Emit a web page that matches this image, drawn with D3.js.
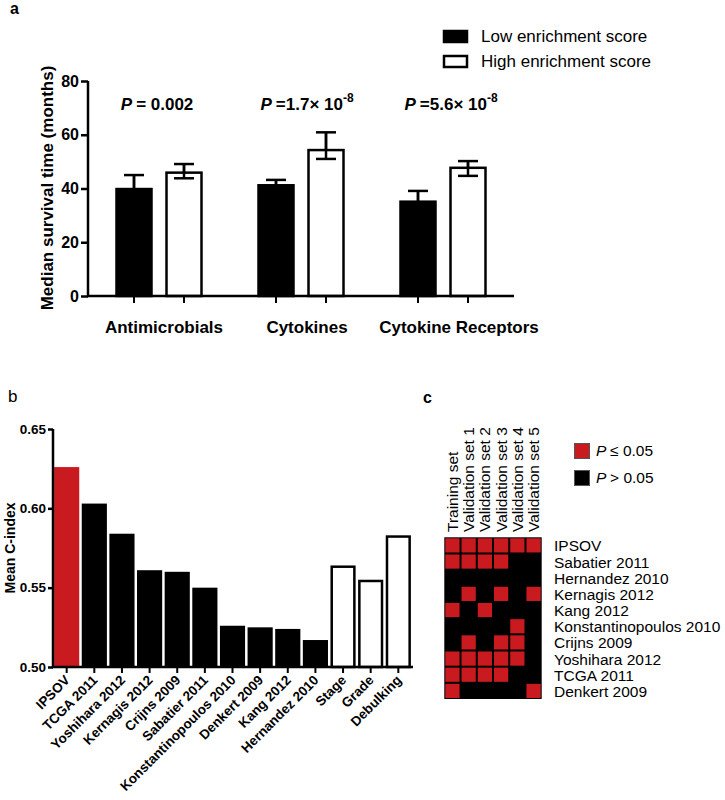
<!DOCTYPE html>
<html><head><meta charset="utf-8">
<script src="https://cdn.jsdelivr.net/npm/d3@7"></script>
<style>body{margin:0;background:#fff}svg{display:block;font-family:"Liberation Sans",Arial,sans-serif}</style>
</head><body>
<svg id="c" width="725" height="800"></svg>
<script>
// ---------- Panel a data ----------
const aCategories = ["Antimicrobials", "Cytokines", "Cytokine Receptors"];
const aSeries = ["Low enrichment score", "High enrichment score"];
const aLow = [39.8, 41.2, 35.1];
const aHigh = [45.9, 54.3, 47.7];
const aLowErrUp = [5.2, 2.0, 4.0];
const aLowErrDown = [5.2, 2.0, 4.0];
const aHighErrUp = [3.2, 6.6, 2.5];
const aHighErrDown = [2.1, 3.3, 3.0];
const aPMantissa = ["= 0.002", "=1.7\u00d7 10", "=5.6\u00d7 10"];
const aPExponent = ["", "-8", "-8"];
const aYTicks = [0, 20, 40, 60, 80];

// ---------- Panel b data ----------
const bCategories = ["IPSOV", "TCGA 2011", "Yoshihara 2012", "Kernagis 2012", "Crijns 2009", "Sabatier 2011",
  "Konstantinopoulos 2010", "Denkert 2009", "Kang 2012", "Hernandez 2010", "Stage", "Grade", "Debulking"];
const bValues = [0.626, 0.603, 0.584, 0.561, 0.560, 0.550, 0.526, 0.525, 0.524, 0.517, 0.564, 0.555, 0.583];
const bKind = ["ipsov", "sig", "sig", "sig", "sig", "sig", "sig", "sig", "sig", "sig", "clin", "clin", "clin"];
const bYTicks = [0.50, 0.55, 0.60, 0.65];

// ---------- Panel c data ----------
const cColumns = ["Training set", "Validation set 1", "Validation set 2", "Validation set 3", "Validation set 4", "Validation set 5"];
const cRows = ["IPSOV", "Sabatier 2011", "Hernandez 2010", "Kernagis 2012", "Kang 2012", "Konstantinopoulos 2010",
  "Crijns 2009", "Yoshihara 2012", "TCGA 2011", "Denkert 2009"];
// 1 = P <= 0.05, 0 = P > 0.05
const cMatrix = [
  [1,1,1,1,1,1],
  [1,1,1,1,0,0],
  [0,0,0,0,0,0],
  [0,1,0,1,0,1],
  [1,0,1,0,0,0],
  [0,0,0,0,1,0],
  [0,1,0,1,1,0],
  [1,1,1,1,1,0],
  [1,1,1,1,0,0],
  [1,0,0,0,0,1]
];
const cLegend = ["\u2264 0.05", "> 0.05"];

const RED = "#c91a1f";
const svg = d3.select("#c");

// ================= Panel a =================
(function(){
  const g = svg.append("g");
  const x0 = d3.scaleBand().domain(aCategories).range([88, 514]).padding(0);
  const x1 = d3.scaleBand().domain(aSeries).range([-45, 45]).paddingInner(0.3).paddingOuter(0.05);
  const y = d3.scaleLinear().domain([0, 80]).range([296, 81]);
  const bw = 35;

  g.append("text").attr("x", 10).attr("y", 14).attr("font-size", 16).attr("font-weight", "bold").text("a");

  const groups = g.selectAll("g.grp").data(aCategories).join("g")
    .attr("transform", d => `translate(${x0(d) + x0.bandwidth()/2},0)`);

  aSeries.forEach((s, si) => {
    const vals = si === 0 ? aLow : aHigh;
    const up = si === 0 ? aLowErrUp : aHighErrUp;
    const dn = si === 0 ? aLowErrDown : aHighErrDown;
    const cx = x1(s) + x1.bandwidth()/2;
    groups.each(function(d, i){
      const gg = d3.select(this);
      const v = vals[i];
      gg.append("line").attr("x1", cx).attr("x2", cx).attr("y1", y(v + up[i])).attr("y2", y(v - dn[i]))
        .attr("stroke", "#000").attr("stroke-width", 2.5);
      gg.append("line").attr("x1", cx - 10).attr("x2", cx + 10).attr("y1", y(v + up[i])).attr("y2", y(v + up[i]))
        .attr("stroke", "#000").attr("stroke-width", 2.5);
      gg.append("line").attr("x1", cx - 10).attr("x2", cx + 10).attr("y1", y(v - dn[i])).attr("y2", y(v - dn[i]))
        .attr("stroke", "#000").attr("stroke-width", 2.5);
      gg.append("rect").attr("x", cx - bw/2).attr("y", y(v)).attr("width", bw).attr("height", y(0) - y(v))
        .attr("fill", si === 0 ? "#000" : "#fff").attr("stroke", "#000").attr("stroke-width", 2.5);
      gg.append("line").attr("x1", cx).attr("x2", cx).attr("y1", y(v + up[i])).attr("y2", y(v))
        .attr("stroke", "#000").attr("stroke-width", 2.5);
      if (si === 1) {
        gg.append("line").attr("x1", cx).attr("x2", cx).attr("y1", y(v)).attr("y2", y(v - dn[i]))
          .attr("stroke", "#000").attr("stroke-width", 2.5);
        gg.append("line").attr("x1", cx - 10).attr("x2", cx + 10).attr("y1", y(v - dn[i])).attr("y2", y(v - dn[i]))
          .attr("stroke", "#000").attr("stroke-width", 2.5);
      }
      gg.append("line").attr("x1", cx).attr("x2", cx).attr("y1", y(0)).attr("y2", y(0) + 7)
        .attr("stroke", "#000").attr("stroke-width", 2);
    });
  });

  const ya = g.append("g").attr("transform", "translate(88,0)")
    .call(d3.axisLeft(y).tickValues(aYTicks).tickSize(7).tickPadding(2));
  ya.select(".domain").attr("stroke-width", 2.5).attr("d", `M0,${y(80)}V${y(0)}`);
  ya.selectAll(".tick line").attr("stroke-width", 2.5);
  ya.selectAll("text").attr("font-size", 16).attr("font-weight", "bold").attr("fill", "#000")
    .attr("font-family", "Liberation Sans, Arial, sans-serif");
  g.append("line").attr("x1", 87).attr("x2", 514).attr("y1", y(0)).attr("y2", y(0))
    .attr("stroke", "#000").attr("stroke-width", 2.5);

  groups.append("text").attr("x", (d, i) => [5, 6, 16][i]).attr("y", 333).attr("text-anchor", "middle")
    .attr("font-size", 17).attr("font-weight", "bold").text(d => d);

  groups.each(function(d, i){
    const t = d3.select(this).append("text").attr("x", [-2, 6, 8][i]).attr("y", 110).attr("text-anchor", "middle")
      .attr("font-size", 17).attr("font-weight", "bold");
    t.append("tspan").attr("font-style", "italic").text("P ");
    t.append("tspan").text(aPMantissa[i]);
    if (aPExponent[i]) t.append("tspan").attr("font-size", 12).attr("dy", -8).text(aPExponent[i]);
  });

  g.append("text").attr("transform", "translate(53,188) rotate(-90)").attr("text-anchor", "middle")
    .attr("font-size", 17).attr("font-weight", "bold").text("Median survival time (months)");

  const lg = g.append("g");
  aSeries.forEach((s, i) => {
    lg.append("rect").attr("x", 444).attr("y", 31 + i * 25).attr("width", 23).attr("height", 11)
      .attr("fill", i === 0 ? "#000" : "#fff").attr("stroke", "#000").attr("stroke-width", 2.5);
    lg.append("text").attr("x", 481).attr("y", 42 + i * 25).attr("font-size", 17).text(s);
  });
})();

// ================= Panel b =================
(function(){
  const g = svg.append("g");
  const x = d3.scaleBand().domain(bCategories).range([53, 412]).paddingInner(0.09).paddingOuter(0.04);
  const y = d3.scaleLinear().domain([0.50, 0.65]).range([667, 429]);

  g.append("text").attr("x", 8).attr("y", 402).attr("font-size", 17).text("b");

  g.selectAll("rect.bar").data(bCategories).join("rect")
    .attr("x", d => x(d)).attr("width", x.bandwidth())
    .attr("y", (d, i) => y(bValues[i])).attr("height", (d, i) => y(0.5) - y(bValues[i]))
    .attr("fill", (d, i) => bKind[i] === "ipsov" ? RED : (bKind[i] === "sig" ? "#000" : "#fff"))
    .attr("stroke", (d, i) => bKind[i] === "clin" ? "#000" : "none")
    .attr("stroke-width", 2.5)
    .each(function(d, i){
      if (bKind[i] === "clin") {
        d3.select(this).attr("x", x(d) + 1.25).attr("width", x.bandwidth() - 2.5)
          .attr("y", y(bValues[i]) + 1.25).attr("height", y(0.5) - y(bValues[i]) - 1.25);
      }
    });

  const xa = g.append("g").attr("transform", `translate(0,${y(0.5)})`)
    .call(d3.axisBottom(x).tickSize(6).tickFormat(""));
  xa.select(".domain").remove();
  xa.selectAll(".tick line").attr("stroke-width", 2);
  g.append("line").attr("x1", 52).attr("x2", 413).attr("y1", y(0.5)).attr("y2", y(0.5))
    .attr("stroke", "#000").attr("stroke-width", 2.5);

  g.selectAll("text.xl").data(bCategories).join("text")
    .attr("transform", d => `translate(${x(d) + x.bandwidth()/2 + 4},681) rotate(-45)`)
    .attr("text-anchor", "end").attr("font-size", 13.5).attr("font-weight", "bold").text(d => d);

  const ya = g.append("g").attr("transform", "translate(53,0)")
    .call(d3.axisLeft(y).tickValues(bYTicks).tickFormat(d3.format(".2f")).tickSize(5).tickPadding(2));
  ya.select(".domain").attr("stroke-width", 2.5).attr("d", `M0,${y(0.65)}V${y(0.5)}`);
  ya.selectAll(".tick line").attr("stroke-width", 2.5);
  ya.selectAll("text").attr("font-size", 13.5).attr("font-weight", "bold").attr("fill", "#000")
    .attr("font-family", "Liberation Sans, Arial, sans-serif");

  g.append("text").attr("transform", "translate(15,548) rotate(-90)").attr("text-anchor", "middle")
    .attr("font-size", 14).attr("font-weight", "bold").text("Mean C-index");
})();

// ================= Panel c =================
(function(){
  const g = svg.append("g");
  const x = d3.scaleBand().domain(cColumns).range([444.3, 541.7]);
  const y = d3.scaleBand().domain(cRows).range([537.3, 699]);

  g.append("text").attr("x", 423).attr("y", 403).attr("font-size", 16).attr("font-weight", "bold").text("c");

  g.append("rect").attr("x", 444.3).attr("y", 537.3).attr("width", 541.7 - 444.3).attr("height", 699 - 537.3)
    .attr("fill", "#000");
  cRows.forEach((r, ri) => {
    cColumns.forEach((c, ci) => {
      if (cMatrix[ri][ci]) {
        g.append("rect").attr("x", x(c) + 1).attr("y", y(r) + 1)
          .attr("width", x.bandwidth() - 2).attr("height", y.bandwidth() - 2).attr("fill", RED);
      }
    });
  });

  g.selectAll("text.col").data(cColumns).join("text")
    .attr("transform", d => `translate(${x(d) + x.bandwidth()/2 + 5.5},532) rotate(-90)`)
    .attr("font-size", 15.5).text(d => d);

  g.selectAll("text.row").data(cRows).join("text")
    .attr("x", 554).attr("y", d => y(d) + y.bandwidth()/2 + 6)
    .attr("font-size", 15.5).text(d => d);

  cLegend.forEach((t, i) => {
    g.append("rect").attr("x", 574.5).attr("y", 443.5 + i * 27).attr("width", 15).attr("height", 15)
      .attr("fill", i === 0 ? RED : "#000").attr("stroke", "#555").attr("stroke-width", 1);
    const tx = g.append("text").attr("x", 596).attr("y", 456 + i * 27).attr("font-size", 15.5);
    tx.append("tspan").attr("font-style", "italic").text("P ");
    tx.append("tspan").text(t);
  });
})();
</script>
</body></html>
